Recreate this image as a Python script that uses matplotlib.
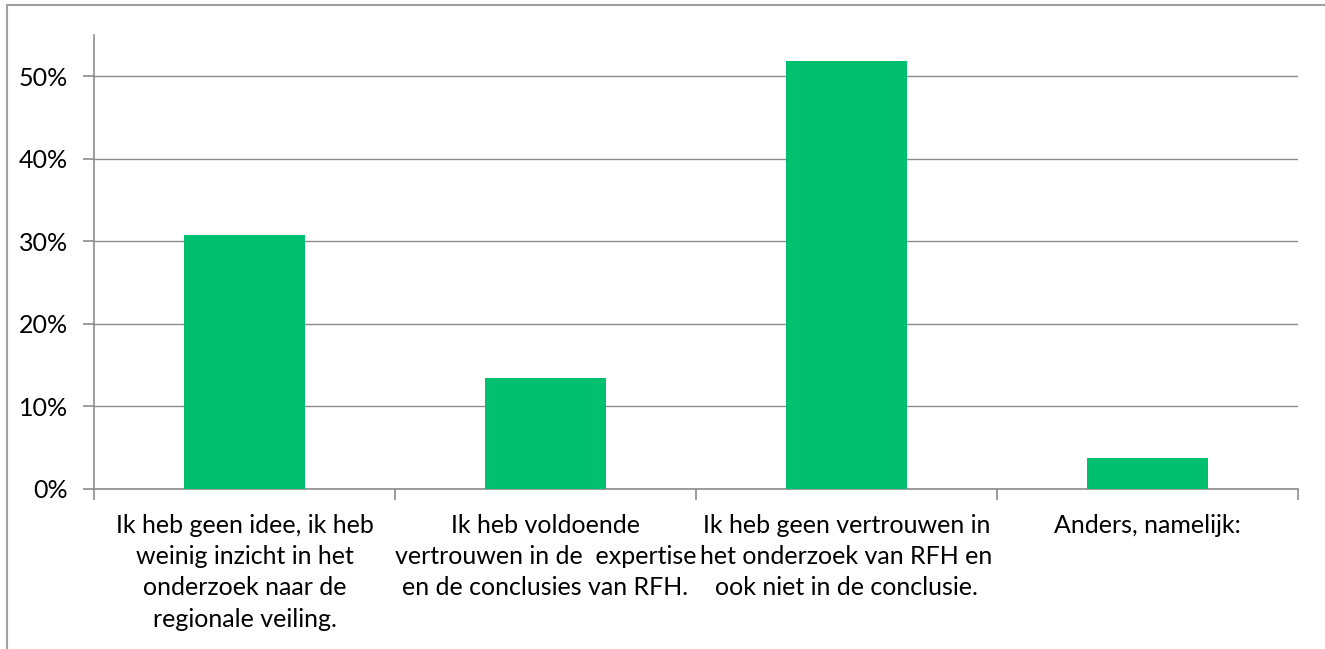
import matplotlib
matplotlib.use("Agg")
import matplotlib.pyplot as plt
from matplotlib.patches import Rectangle
from matplotlib.ticker import FuncFormatter, FixedLocator

categories = [
    "Ik heb geen idee, ik heb\nweinig inzicht in het\nonderzoek naar de\nregionale veiling.",
    "Ik heb voldoende\nvertrouwen in de  expertise\nen de conclusies van RFH.",
    "Ik heb geen vertrouwen in\nhet onderzoek van RFH en\nook niet in de conclusie.",
    "Anders, namelijk:",
]
values = [0.308, 0.135, 0.519, 0.037]
yticks = [0, 0.1, 0.2, 0.3, 0.4, 0.5]

plt.rcParams['font.family'] = ['Lato', 'DejaVu Sans']

W, H = 1325, 649
fig = plt.figure(figsize=(W / 100, H / 100), dpi=100)
fig.patch.set_facecolor("white")

# outer chart border (partially visible)
fig.patches.append(Rectangle((7 / W, -0.1), 2.0, 1 - 5 / H + 0.1, transform=fig.transFigure,
                             fill=False, edgecolor="#a0a0a0", linewidth=1.5))

ax = fig.add_axes([94 / W, 1 - 489 / H, (1298 - 94) / W, (489 - 35) / H])
grey = "#8c8c8c"
x = list(range(len(categories)))
ax.bar(x, values, width=0.4, color="#00BF6F", zorder=3)
ax.set_xlim(-0.5, len(categories) - 0.5)
ax.set_ylim(0, 0.55)
ax.yaxis.set_major_locator(FixedLocator(yticks))
ax.yaxis.set_major_formatter(FuncFormatter(lambda v, p: f"{v*100:.0f}%"))
ax.grid(axis="y", color=grey, linewidth=1.0, zorder=0)

ax.set_xticks(x)
ax.set_xticklabels(categories, fontsize=18, linespacing=1.43, va="top")
ax.xaxis.set_minor_locator(FixedLocator([i - 0.5 for i in range(len(categories) + 1)]))
ax.tick_params(axis="x", which="major", length=0, pad=18)
ax.tick_params(axis="x", which="minor", length=8, color=grey, width=1.2)
ax.tick_params(axis="y", length=8, color=grey, width=1.2, labelsize=18, pad=11)

for s in ["top", "right"]:
    ax.spines[s].set_visible(False)
for s in ["left", "bottom"]:
    ax.spines[s].set_color(grey)
    ax.spines[s].set_linewidth(1.2)

fig.savefig("out.png", dpi=100, facecolor="white")
